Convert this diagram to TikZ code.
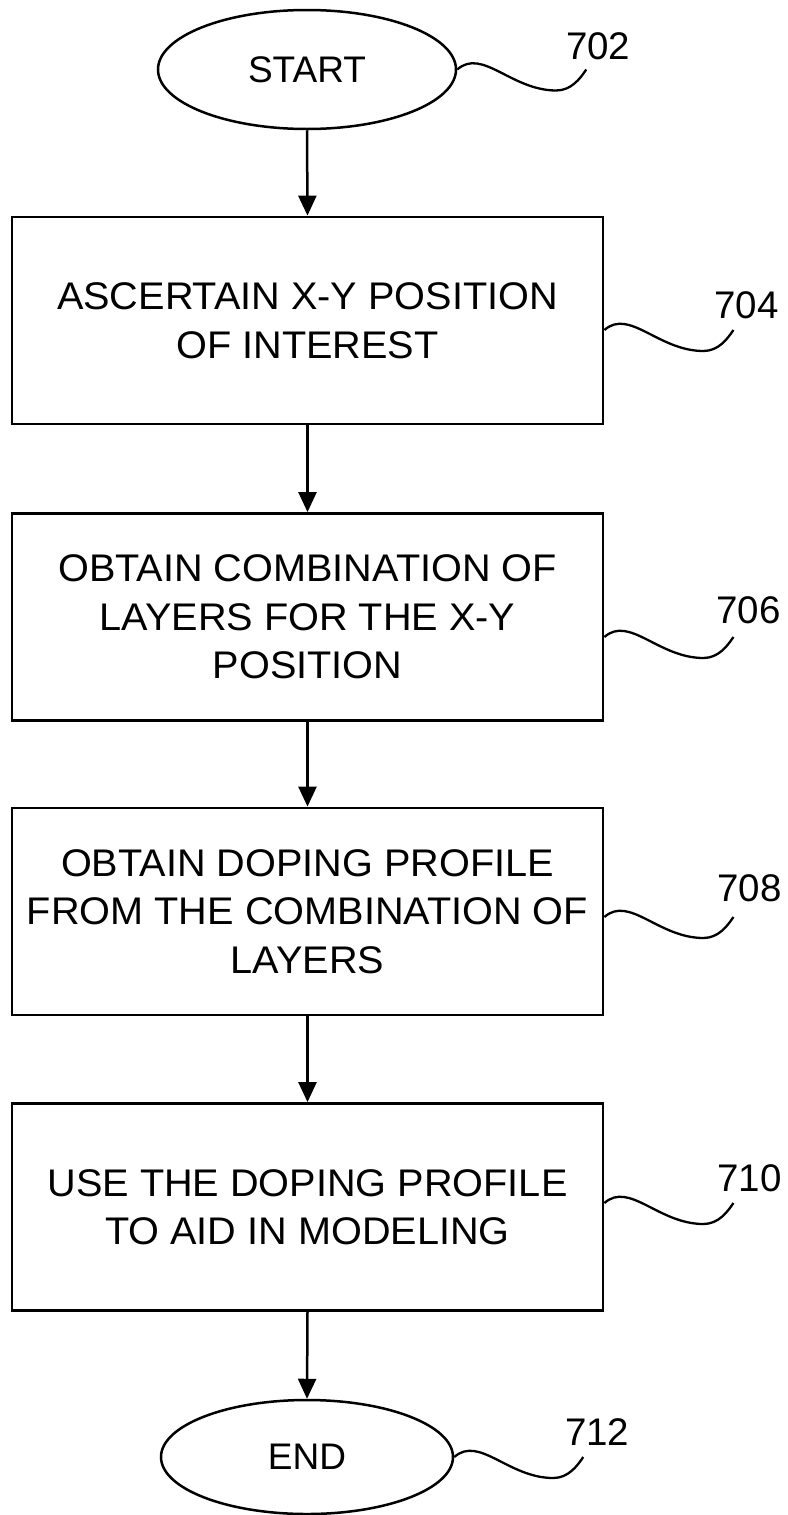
\documentclass[tikz,border=0pt]{standalone}
\usepackage{fontspec}
\setmainfont{Liberation Sans}
\newfontfamily\boxfont[FakeStretch=1.03]{Liberation Sans}
\usetikzlibrary{arrows.meta,shapes.geometric}
\begin{document}
\begin{tikzpicture}[x=1pt,y=-1pt,
  stepbox/.style={draw, line width=2.8pt, rectangle, minimum width=591pt, minimum height=207pt, align=center, font=\boxfont\fontsize{38.5}{48.5}\selectfont, inner sep=0pt},
  term/.style={draw, ellipse, line width=2.5pt, inner sep=0pt, font=\fontsize{37}{44}\selectfont},
  flow/.style={-{Triangle[length=20pt,width=18pt]}, line width=2.5pt},
  lead/.style={line width=2.3pt},
  refnum/.style={font=\fontsize{38.5}{44}\selectfont, inner sep=0pt}]
\useasboundingbox (0,0) rectangle (787,1515);

\node[term, minimum width=298pt, minimum height=119pt] (start) at (307,69.5) {START};
\node[stepbox] (b1) at (307.5,320.5) {ASCERTAIN X-Y POSITION\\OF INTEREST};
\node[stepbox] (b2) at (307.5,617) {OBTAIN COMBINATION OF\\LAYERS FOR THE X-Y\\POSITION};
\node[stepbox] (b3) at (307.5,911.5) {OBTAIN DOPING PROFILE\\FROM THE COMBINATION OF\\LAYERS};
\node[stepbox] (b4) at (307.5,1207) {USE THE DOPING PROFILE\\TO AID IN MODELING};
\node[term, minimum width=292pt, minimum height=114pt] (end) at (307,1457) {END};

\draw[flow] (start.south) -- (b1.north);
\draw[flow] (b1.south) -- (b2.north);
\draw[flow] (b2.south) -- (b3.north);
\draw[flow] (b3.south) -- (b4.north);
\draw[flow] (b4.south) -- (end.north);

% leader curves
\draw[lead] (start.east) .. controls +(25,-22) and +(-45,0) .. ++(99,21) .. controls +(15,0) and +(-6,9) .. ++(30,-21) coordinate (e0);
\draw[lead] ([yshift=-9.5pt]b1.east) .. controls +(25,-22) and +(-45,0) .. ++(99,21) .. controls +(15,0) and +(-6,9) .. ++(30,-21) coordinate (e1);
\draw[lead] ([yshift=-20pt]b2.east) .. controls +(25,-22) and +(-45,0) .. ++(99,21) .. controls +(15,0) and +(-6,9) .. ++(30,-21) coordinate (e2);
\draw[lead] ([yshift=-5.5pt]b3.east) .. controls +(25,-22) and +(-45,0) .. ++(99,21) .. controls +(15,0) and +(-6,9) .. ++(30,-21) coordinate (e3);
\draw[lead] ([yshift=4pt]b4.east) .. controls +(25,-22) and +(-45,0) .. ++(99,21) .. controls +(15,0) and +(-6,9) .. ++(30,-21) coordinate (e4);
\draw[lead] (end.east) .. controls +(25,-22) and +(-45,0) .. ++(99,21) .. controls +(15,0) and +(-6,9) .. ++(30,-21) coordinate (e5);

\node[refnum] (l702) at ([xshift=12pt,yshift=23pt]e0) {702};
\node[refnum] (l704) at ([xshift=13pt,yshift=25pt]e1) {704};
\node[refnum] (l706) at ([xshift=15pt,yshift=27pt]e2) {706};
\node[refnum] (l708) at ([xshift=16pt,yshift=29pt]e3) {708};
\node[refnum] (l710) at ([xshift=16pt,yshift=25pt]e4) {710};
\node[refnum] (l712) at ([xshift=14pt,yshift=25pt]e5) {712};
\end{tikzpicture}
\end{document}
